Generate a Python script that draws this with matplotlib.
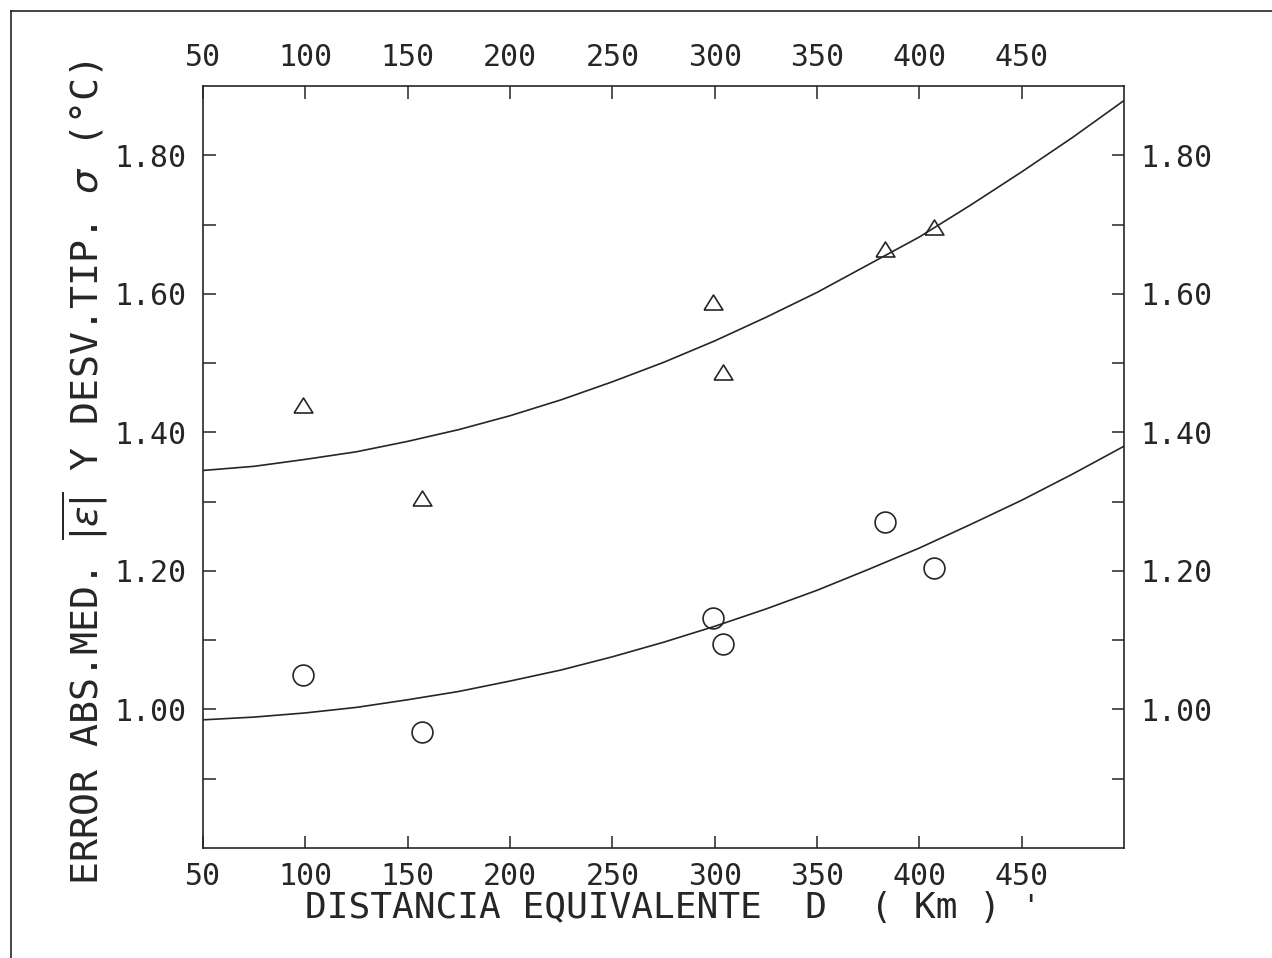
import matplotlib
matplotlib.use('Agg')
import matplotlib.pyplot as plt
from matplotlib.lines import Line2D

plt.rcParams['font.family'] = ['DejaVu Sans Mono', 'DejaVu Sans']

# estaciones: distancia equivalente (km)
dist = [99, 157, 299, 304, 383, 407]
desv_tip = [1.440, 1.305, 1.588, 1.487, 1.664, 1.697]   # triangulos
err_abs = [1.050, 0.968, 1.132, 1.094, 1.271, 1.204]    # circulos

# curvas ajustadas
d_curva = [50, 75, 100, 125, 150, 175, 200, 225, 250, 275,
           300, 325, 350, 375, 400, 425, 450, 475, 500]
curva_sigma = [1.345, 1.351, 1.361, 1.372, 1.387, 1.404, 1.424, 1.447, 1.473, 1.501,
               1.532, 1.566, 1.602, 1.642, 1.682, 1.728, 1.776, 1.826, 1.879]
curva_err = [0.985, 0.989, 0.995, 1.003, 1.014, 1.026, 1.041, 1.057, 1.076, 1.097,
             1.120, 1.145, 1.172, 1.202, 1.233, 1.267, 1.302, 1.340, 1.380]

xticks = [50, 100, 150, 200, 250, 300, 350, 400, 450]
yticks = [1.00, 1.20, 1.40, 1.60, 1.80]
yminor = [0.90, 1.10, 1.30, 1.50, 1.70]

ink = '#262626'

fig = plt.figure(figsize=(12.72, 9.58), dpi=100)
ax = fig.add_axes([203 / 1272, 1 - 848 / 958, 921 / 1272, 762 / 958])

ax.plot(d_curva, curva_sigma, color=ink, lw=1.2)
ax.plot(d_curva, curva_err, color=ink, lw=1.2)

tri = [(-1, -0.8), (1, -0.8), (0, 0.8), (-1, -0.8)]
ax.plot(dist, desv_tip, ls='none', marker=tri, markersize=13.5,
        markerfacecolor='none', markeredgecolor=ink, markeredgewidth=1.2)
ax.plot(dist, err_abs, ls='none', marker='o', markersize=15,
        markerfacecolor='none', markeredgecolor=ink, markeredgewidth=1.2)

ax.set_xlim(50, 500)
ax.set_ylim(0.80, 1.90)
ax.set_xticks(xticks)
ax.set_xticklabels([str(v) for v in xticks])
ax.set_yticks(yticks)
ax.set_yticklabels(['%.2f' % v for v in yticks])
ax.set_yticks(yminor, minor=True)

ax.tick_params(axis='both', which='both', direction='in', length=9, width=1.1,
               color=ink, labelcolor=ink, labelsize=21.5)
ax.tick_params(axis='x', top=True, labeltop=True, pad=10)
ax.tick_params(axis='y', which='both', right=True, labelright=True, pad=12)
for s in ax.spines.values():
    s.set_color(ink)
    s.set_linewidth(1.2)

fig.text(653 / 1272, 1 - 908 / 958, 'DISTANCIA EQUIVALENTE  D  ( Km )',
         ha='center', va='center', fontsize=26, color=ink)
fig.text(1030 / 1272, 1 - 893 / 958, "'", ha='center', va='top',
         fontsize=22, color=ink)
fig.text(85 / 1272, 1 - 473 / 958,
         r'ERROR ABS.MED. $\overline{|\varepsilon|}$ Y DESV.TIP. $\sigma$ (°C)',
         rotation=90, ha='center', va='center', fontsize=27.5, color=ink)

# marco exterior de la hoja
fig.add_artist(Line2D([11 / 1272, 11 / 1272], [0, 1 - 11 / 958],
                      transform=fig.transFigure, color=ink, lw=1.2))
fig.add_artist(Line2D([11 / 1272, 1], [1 - 11 / 958, 1 - 11 / 958],
                      transform=fig.transFigure, color=ink, lw=1.2))

fig.savefig('out.png', dpi=100, facecolor='white')
